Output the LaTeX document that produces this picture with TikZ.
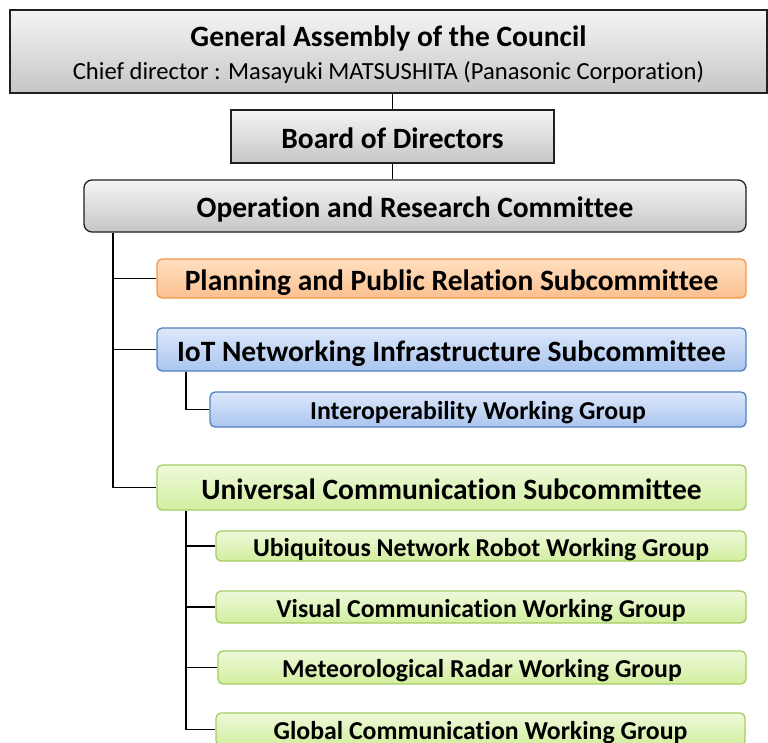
\documentclass[tikz,border=0pt]{standalone}
\usepackage{fontspec}
\setmainfont{Carlito}[Ligatures=NoCommon]
\usetikzlibrary{positioning}
\definecolor{grayline}{HTML}{202020}
\definecolor{orangeline}{HTML}{F79646}
\definecolor{blueline}{HTML}{4F81BD}
\definecolor{greenline}{HTML}{A6CB66}
\definecolor{bluetop}{HTML}{DDE8FA}
\definecolor{bluebottom}{HTML}{AAC5EF}
\definecolor{greentop}{HTML}{EEF9DA}
\definecolor{greenbottom}{HTML}{D2EE9E}
\begin{document}
\begin{tikzpicture}[x=1pt, y=-1pt,
  every node/.style={align=center, inner sep=0pt},
  graybox/.style={draw=grayline, line width=1.3pt, top color=gray!8, bottom color=gray!45},
  orangebox/.style={draw=orangeline, line width=1.3pt, rounded corners=5pt, top color=orange!25!white, bottom color=orangeline!60!white},
  bluebox/.style={draw=blueline, line width=1.3pt, rounded corners=5pt, top color=bluetop, bottom color=bluebottom},
  greenbox/.style={draw=greenline, line width=1.3pt, rounded corners=5pt, top color=greentop, bottom color=greenbottom},
  head/.style={font=\fontsize{29.5}{34}\selectfont\bfseries, text height=27pt, text depth=4pt},
  wg/.style={font=\fontsize{25.8}{30}\selectfont\bfseries, text height=23pt, text depth=3pt},
  link/.style={line width=1.8pt}
]
\useasboundingbox (0,0) rectangle (768,742);
\node[graybox, text height=60pt, minimum width=757pt, minimum height=83pt] (assembly) at (388.5,51.5)
  {{\fontsize{29.5}{34}\selectfont\bfseries General Assembly of the Council}\\[9pt]
   {\fontsize{24.6}{28}\selectfont Chief director : Masayuki MATSUSHITA (Panasonic Corporation)}};
\node[graybox, head, minimum width=323pt, minimum height=53pt] (board) at (392.5,136.5) {Board of Directors};
\node[graybox, head, rounded corners=8pt, minimum width=662pt, minimum height=52pt] (orc) at (415,206) {Operation and Research Committee};

\node[orangebox, head, minimum width=589pt, minimum height=39pt] (plan) at (451.5,278.5) {Planning and Public Relation Subcommittee};
\node[bluebox, head, minimum width=589pt, minimum height=43pt] (iot) at (451.5,349.5) {IoT Networking Infrastructure Subcommittee};
\node[bluebox, wg, minimum width=536pt, minimum height=35pt] (interop) at (478,409.5) {Interoperability Working Group};
\node[greenbox, head, minimum width=589pt, minimum height=45pt] (ucs) at (451.5,487.5) {Universal Communication Subcommittee};
\node[greenbox, wg, minimum width=530pt, minimum height=30pt] (ubiq) at (481,546) {Ubiquitous Network Robot Working Group};
\node[greenbox, wg, minimum width=530pt, minimum height=32pt] (visual) at (481,607) {Visual Communication Working Group};
\node[greenbox, wg, minimum width=528pt, minimum height=33pt] (meteo) at (482,667.5) {Meteorological Radar Working Group};
\node[greenbox, wg, minimum width=529pt, minimum height=33pt] (global) at (480.5,729.5) {Global Communication Working Group};

\draw[link] (board.north) -- (board.north |- assembly.south);
\draw[link] (board.south) -- (board.south |- orc.north);

\coordinate (trunk) at ([xshift=30pt]orc.south west);
\draw[link] (trunk) |- (ucs.west);
\draw[link] (plan.west) -- (plan.west -| trunk);
\draw[link] (iot.west) -- (iot.west -| trunk);

\coordinate (iotbranch) at ([xshift=30pt]iot.south west);
\draw[link] (iotbranch) |- (interop.west);

\coordinate (ucsbranch) at ([xshift=30pt]ucs.south west);
\draw[link] (ucsbranch) |- (global.west);
\draw[link] (ubiq.west) -- (ubiq.west -| ucsbranch);
\draw[link] (visual.west) -- (visual.west -| ucsbranch);
\draw[link] (meteo.west) -- (meteo.west -| ucsbranch);
\end{tikzpicture}
\end{document}
